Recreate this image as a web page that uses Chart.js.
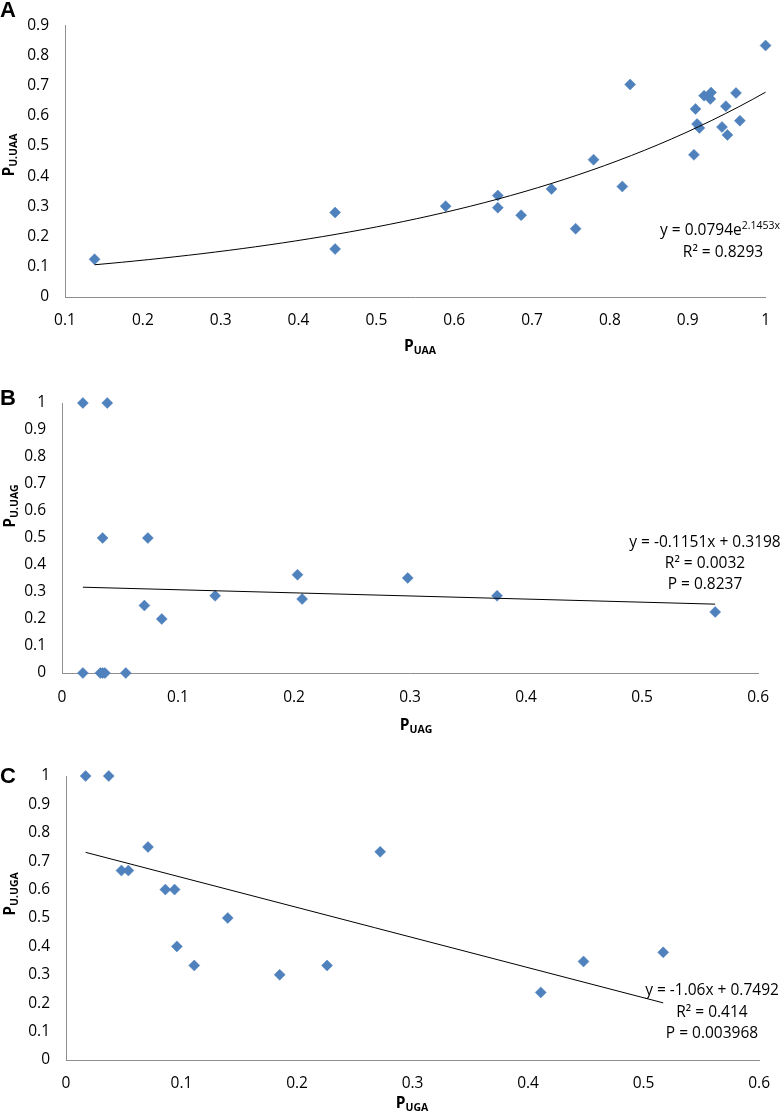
<!DOCTYPE html>
<html>
<head>
<meta charset="utf-8">
<script src="https://cdn.jsdelivr.net/npm/chart.js@4.4.1/dist/chart.umd.min.js"></script>
<style>
  body { margin: 0; background: #fff; }
  canvas { position: absolute; left: 0; }
</style>
</head>
<body>
<canvas id="chartA" width="784" height="362" style="top:0"></canvas>
<canvas id="chartB" width="784" height="375" style="top:362px"></canvas>
<canvas id="chartC" width="784" height="376" style="top:737px"></canvas>
<script>
// Panel A - P_UAA vs P_U.UAA
const uaaX = [0.138, 0.447, 0.447, 0.589, 0.656, 0.656, 0.686, 0.725, 0.756, 0.779, 0.816, 0.826, 0.908,
  0.910, 0.912, 0.915, 0.921, 0.929, 0.930, 0.944, 0.949, 0.951, 0.962, 0.967, 1.000];
const uaaY = [0.125, 0.280, 0.159, 0.301, 0.336, 0.296, 0.271, 0.358, 0.226, 0.455, 0.366, 0.704, 0.471,
  0.623, 0.573, 0.560, 0.667, 0.656, 0.677, 0.563, 0.632, 0.537, 0.676, 0.584, 0.833];
const uaaFit = { a: 0.0794, b: 2.1453 };   // y = a * e^(b x), as printed on the chart

// Panel B - P_UAG vs P_U.UAG
const uagX = [0.018, 0.039, 0.035, 0.074, 0.071, 0.086, 0.132, 0.203, 0.207, 0.298, 0.375, 0.563,
  0.018, 0.033, 0.035, 0.037, 0.055];
const uagY = [1, 1, 0.5, 0.5, 0.25, 0.2, 0.286, 0.364, 0.274, 0.352, 0.286, 0.226, 0, 0, 0, 0, 0];
const uagFit = { slope: -0.1151, icept: 0.3198 };

// Panel C - P_UGA vs P_U.UGA
const ugaX = [0.017, 0.037, 0.048, 0.054, 0.071, 0.086, 0.094, 0.096, 0.111, 0.140, 0.185, 0.226,
  0.272, 0.411, 0.448, 0.517];
const ugaY = [1, 1, 0.667, 0.667, 0.75, 0.6, 0.6, 0.4, 0.333, 0.5, 0.3, 0.333, 0.733, 0.238, 0.347, 0.379];
const ugaFit = { slope: -1.06, icept: 0.7492 };

// tick values
const ticksXA = [0.1, 0.2, 0.3, 0.4, 0.5, 0.6, 0.7, 0.8, 0.9, 1];
const ticksYA = [0, 0.1, 0.2, 0.3, 0.4, 0.5, 0.6, 0.7, 0.8, 0.9];
const ticksXBC = [0, 0.1, 0.2, 0.3, 0.4, 0.5, 0.6];
const ticksYBC = [0, 0.1, 0.2, 0.3, 0.4, 0.5, 0.6, 0.7, 0.8, 0.9, 1];

const FONT = "'Open Sans', sans-serif";
const TXT = 15.5;
const MARKER = '#4f81bd';
const AXIS = '#8f8f8f';

function expCurve(fit, x0, x1) {
  const pts = [];
  for (let i = 0; i <= 50; i++) {
    const x = x0 + (x1 - x0) * i / 50;
    pts.push({ x, y: fit.a * Math.exp(fit.b * x) });
  }
  return pts;
}

function lineEnds(fit, xs) {
  const x0 = Math.min(...xs), x1 = Math.max(...xs);
  return [{ x: x0, y: fit.slope * x0 + fit.icept }, { x: x1, y: fit.slope * x1 + fit.icept }];
}

function drawRich(ctx, parts, cx, base) {
  let total = 0;
  parts.forEach(p => {
    ctx.font = (p.bold ? 'bold ' : '') + p.size + 'px ' + FONT;
    p.w = ctx.measureText(p.text).width;
    total += p.w;
  });
  let x = cx - total / 2;
  parts.forEach(p => {
    ctx.font = (p.bold ? 'bold ' : '') + p.size + 'px ' + FONT;
    ctx.fillText(p.text, x, base + (p.shift || 0));
    x += p.w;
  });
}

function pTitle(sub) {
  return [{ text: 'P', size: 15.5, bold: true }, { text: sub, size: 10.5, bold: true, shift: 3 }];
}

function drawNotes(chart, n) {
  const ctx = chart.ctx;
  ctx.save();
  ctx.fillStyle = '#000';
  ctx.textAlign = 'left';
  ctx.textBaseline = 'alphabetic';

  ctx.font = "bold 22px 'Liberation Sans', Arial, sans-serif";
  ctx.fillText(n.letter, 0, n.letterBase);

  drawRich(ctx, pTitle(n.xSub), n.xTitle[0], n.xTitle[1]);

  ctx.save();
  ctx.translate(n.yTitle[0], n.yTitle[1]);
  ctx.rotate(-Math.PI / 2);
  drawRich(ctx, pTitle(n.ySub), 0, 0);
  ctx.restore();

  n.eq.forEach(line => drawRich(ctx, line.parts, line.cx, line.base));
  ctx.restore();
}

function buildPanel(id, cfg) {
  const points = cfg.xs.map((x, i) => ({ x, y: cfg.ys[i] }));
  const axisOpts = (min, max, ticks, pad) => ({
    type: 'linear',
    min, max,
    afterBuildTicks: s => { s.ticks = ticks.map(v => ({ value: v })); },
    ticks: {
      autoSkip: false, maxRotation: 0, padding: pad, color: '#000',
      font: { family: FONT, size: TXT },
      callback: v => String(Math.round(v * 10) / 10)
    },
    grid: { drawOnChartArea: false, drawTicks: false },
    border: { display: true, color: AXIS, width: 1 }
  });

  const x = axisOpts(cfg.xMin, cfg.xMax, cfg.xTicks, cfg.xPad);
  x.afterFit = s => { s.height = cfg.xAxisH; };
  const y = axisOpts(cfg.yMin, cfg.yMax, cfg.yTicks, 16);
  y.afterFit = s => { s.width = cfg.yAxisW; };

  return new Chart(document.getElementById(id), {
    type: 'scatter',
    data: {
      datasets: [
        { data: cfg.fit, showLine: true, borderColor: '#000', borderWidth: 1, pointRadius: 0, order: 0, clip: false },
        { data: points, pointStyle: 'rectRot', pointRadius: 5.5, backgroundColor: MARKER,
          borderColor: MARKER, borderWidth: 0.5, order: 1, clip: false }
      ]
    },
    options: {
      responsive: false,
      animation: false,
      layout: { padding: cfg.padding },
      plugins: { legend: { display: false }, tooltip: { enabled: false } },
      scales: { x, y }
    },
    plugins: [{ id: 'notes', afterDraw: chart => drawNotes(chart, cfg.notes) }]
  });
}

buildPanel('chartA', {
  xs: uaaX, ys: uaaY,
  fit: expCurve(uaaFit, Math.min(...uaaX), Math.max(...uaaX)),
  xMin: 0.1, xMax: 1, yMin: 0, yMax: 0.9,
  xTicks: ticksXA, yTicks: ticksYA,
  padding: { left: 0, right: 9, top: 14, bottom: 0 },
  yAxisW: 65, xAxisH: 65, xPad: 14,
  notes: {
    letter: 'A', letterBase: 17,
    xSub: 'UAA', xTitle: [420, 351],
    ySub: 'U.UAA', yTitle: [14, 155],
    eq: [
      { cx: 720, base: 235, parts: [{ text: 'y = 0.0794e', size: TXT }, { text: '2.1453x', size: 10.5, shift: -6 }] },
      { cx: 723, base: 257, parts: [{ text: 'R² = 0.8293', size: TXT }] }
    ]
  }
});

buildPanel('chartB', {
  xs: uagX, ys: uagY,
  fit: lineEnds(uagFit, uagX),
  xMin: 0, xMax: 0.6, yMin: 0, yMax: 1,
  xTicks: ticksXBC, yTicks: ticksYBC,
  padding: { left: 0, right: 16, top: 41, bottom: 0 },
  yAxisW: 62, xAxisH: 64, xPad: 15,
  notes: {
    letter: 'B', letterBase: 43,
    xSub: 'UAG', xTitle: [416, 368],
    ySub: 'U.UAG', yTitle: [15, 144],
    eq: [
      { cx: 705, base: 185, parts: [{ text: 'y = -0.1151x + 0.3198', size: TXT }] },
      { cx: 705, base: 206, parts: [{ text: 'R² = 0.0032', size: TXT }] },
      { cx: 705, base: 227, parts: [{ text: 'P = 0.8237', size: TXT }] }
    ]
  }
});

buildPanel('chartC', {
  xs: ugaX, ys: ugaY,
  fit: lineEnds(ugaFit, ugaX),
  xMin: 0, xMax: 0.6, yMin: 0, yMax: 1,
  xTicks: ticksXBC, yTicks: ticksYBC,
  padding: { left: 0, right: 16, top: 39, bottom: 0 },
  yAxisW: 66, xAxisH: 53, xPad: 14,
  notes: {
    letter: 'C', letterBase: 46,
    xSub: 'UGA', xTitle: [412, 371],
    ySub: 'U.UGA', yTitle: [15, 157],
    eq: [
      { cx: 712, base: 258, parts: [{ text: 'y = -1.06x + 0.7492', size: TXT }] },
      { cx: 712, base: 280, parts: [{ text: 'R² = 0.414', size: TXT }] },
      { cx: 712, base: 301, parts: [{ text: 'P = 0.003968', size: TXT }] }
    ]
  }
});
</script>
</body>
</html>
